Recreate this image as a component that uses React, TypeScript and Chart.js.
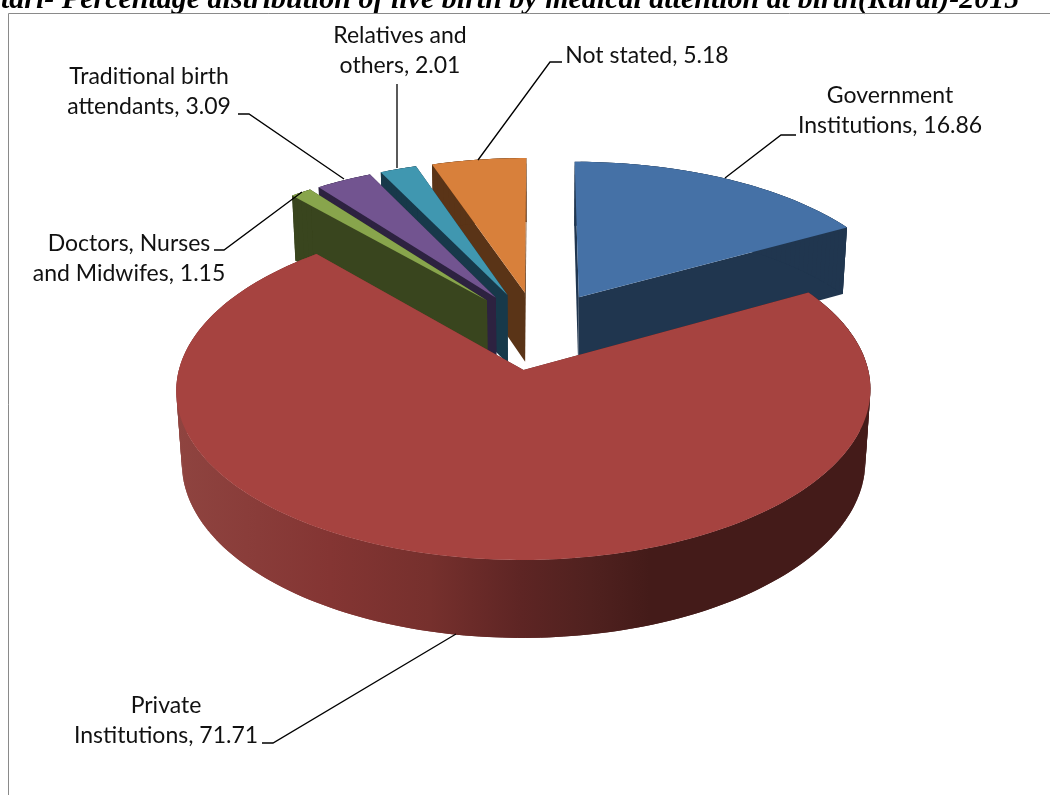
import React, { useEffect, useRef } from "react";
import { Chart, registerables } from "chart.js";

Chart.register(...registerables);

const categories = [
  "Government Institutions",
  "Private Institutions",
  "Doctors, Nurses and Midwifes",
  "Traditional birth attendants",
  "Relatives and others",
  "Not stated",
];
const values = [16.86, 71.71, 1.15, 3.09, 2.01, 5.18];
const labelLines = [
  ["Government", "Institutions, 16.86"],
  ["Private", "Institutions, 71.71"],
  ["Doctors, Nurses", "and Midwifes, 1.15"],
  ["Traditional birth", "attendants, 3.09"],
  ["Relatives and", "others, 2.01"],
  ["Not stated, 5.18"],
];
const topColors = ["#4571a6", "#a64340", "#88a54c", "#725490", "#4097b0", "#d8803b"];
const wallColors = ["#20364f", "", "#39451e", "#2d2240", "#17394a", "#5a3417"];
const titleText = "tari- Percentage distribution of live birth by medical attention at birth(Rural)-2015";

// layout, kept apart from the data
const labelAnchors = [
  [890, 103],
  [166, 713],
  [129, 251],
  [149, 84],
  [400, 43],
  [647, 63],
];
const leaders = [
  [[725, 178], [781, 135], [796, 135]],
  [[456, 634], [273, 743], [262, 743]],
  [[302, 192], [224, 250], [214, 250]],
  [[344, 179], [249, 114], [238, 114]],
  [[397, 168], [397, 84]],
  [[478, 160], [550, 62], [562, 62]],
];
const drawOrder = [0, 5, 4, 3, 2, 1];
const view = { cx: 538, cy: 330.3, R: 335, Q: 158.3, D: 71.4, p: 0.115, q: 0.015, explode: 0.247 };
const privateWallStops: [number, string][] = [
  [175, "#8f4440"],
  [330, "#843533"],
  [430, "#76302d"],
  [520, "#5e2524"],
  [590, "#50211f"],
  [650, "#441b19"],
  [872, "#441b19"],
];

function project(u: number, v: number, z: number) {
  const w = 1 - view.p * v + view.q * z;
  return [view.cx + (view.R * u) / w, view.cy + (view.Q * v + view.D * z) / w];
}

const pie3d = {
  id: "pie3d",
  beforeDatasetsDraw(chart: any) {
    const ctx = chart.ctx;
    const arcs = chart.getDatasetMeta(0).data;

    const gradient = ctx.createLinearGradient(175, 0, 872, 0);
    privateWallStops.forEach(([x, c]) => gradient.addColorStop((x - 175) / (872 - 175), c));

    for (const i of drawOrder) {
      const arc = arcs[i];
      const a0 = arc.startAngle;
      const a1 = arc.endAngle;
      const mid = (a0 + a1) / 2;
      const e = view.explode;
      const ou = Math.cos(mid) * e;
      const ov = Math.sin(mid) * e;
      const steps = Math.max(4, Math.ceil((a1 - a0) / 0.02));
      const rim: [number, number][] = [];
      for (let s = 0; s <= steps; s++) {
        const a = a0 + ((a1 - a0) * s) / steps;
        rim.push([ou + Math.cos(a), ov + Math.sin(a)]);
      }
      ctx.fillStyle = wallColors[i] || gradient;
      const face = (pts: number[][]) => {
        ctx.beginPath();
        pts.forEach((p, k) => (k ? ctx.lineTo(p[0], p[1]) : ctx.moveTo(p[0], p[1])));
        ctx.closePath();
        ctx.fill();
      };
      const wallOf = (p: [number, number]) => [project(p[0], p[1], 0), project(p[0], p[1], 1)];
      for (const end of [rim[0], rim[rim.length - 1]]) {
        const [a, d] = wallOf([ou, ov]);
        const [b, c] = wallOf(end);
        face([a, b, c, d]);
      }
      // outer wall: overlapping pieces, so no seam shows and nothing cancels out
      for (let s = 0; s < rim.length - 1; s += 1) {
        const [a, d] = wallOf(rim[s]);
        const [b, c] = wallOf(rim[Math.min(s + 2, rim.length - 1)]);
        face([a, b, c, d]);
      }

      ctx.fillStyle = topColors[i];
      face([project(ou, ov, 0), ...rim.map((r) => project(r[0], r[1], 0))]);
    }
    return false;
  },
  afterDraw(chart: any) {
    const ctx = chart.ctx;
    ctx.save();
    ctx.fillStyle = "#000";
    ctx.font = "italic bold 30px 'Liberation Serif'";
    ctx.textAlign = "left";
    ctx.textBaseline = "alphabetic";
    ctx.fillText(titleText, 1, 8);

    ctx.strokeStyle = "#8a8a8a";
    ctx.lineWidth = 1;
    ctx.beginPath();
    ctx.moveTo(8.5, 795);
    ctx.lineTo(8.5, 13.5);
    ctx.lineTo(1050, 13.5);
    ctx.stroke();

    ctx.strokeStyle = "#000";
    ctx.lineWidth = 1.3;
    for (const pts of leaders) {
      ctx.beginPath();
      pts.forEach((p, k) => (k ? ctx.lineTo(p[0], p[1]) : ctx.moveTo(p[0], p[1])));
      ctx.stroke();
    }

    ctx.fillStyle = "#111";
    ctx.font = "23px Lato";
    ctx.textAlign = "center";
    labelLines.forEach((lines, i) => {
      lines.forEach((t, k) => ctx.fillText(t, labelAnchors[i][0], labelAnchors[i][1] + k * 30));
    });
    ctx.restore();
  },
};

export default function App() {
  const ref = useRef<HTMLCanvasElement>(null);
  useEffect(() => {
    const chart = new Chart(ref.current as HTMLCanvasElement, {
      type: "pie",
      data: {
        labels: categories,
        datasets: [{ data: values, backgroundColor: topColors, borderWidth: 0 }],
      },
      options: {
        responsive: false,
        animation: false,
        rotation: 0,
        layout: { padding: 0 },
        plugins: { legend: { display: false }, title: { display: false }, tooltip: { enabled: false } },
      },
      plugins: [pie3d],
    } as any);
    return () => chart.destroy();
  }, []);
  return (
    <canvas
      ref={ref}
      width={1050}
      height={795}
      style={{ position: "fixed", left: 0, top: 0, width: 1050, height: 795, background: "#fff" }}
    />
  );
}
